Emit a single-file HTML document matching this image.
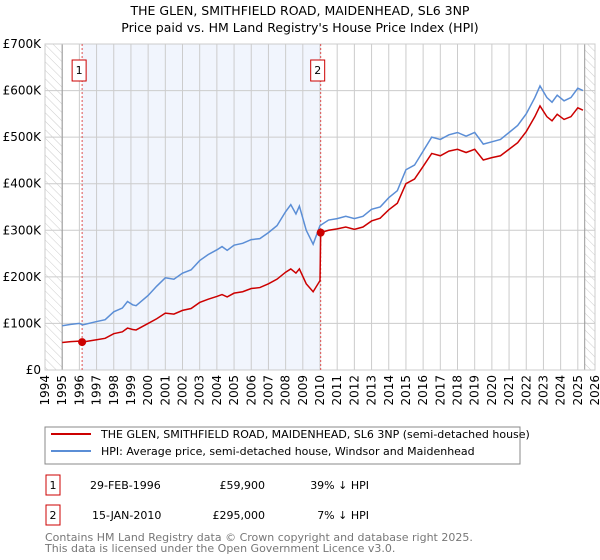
<!DOCTYPE html>
<html><head><meta charset="utf-8"><style>
body{margin:0;background:#fff;font-family:"DejaVu Sans","Liberation Sans",sans-serif;}
#wrap{position:relative;width:600px;height:560px;overflow:hidden}
svg text{font-family:"DejaVu Sans","Liberation Sans",sans-serif}
</style></head><body>
<div id="wrap">
<svg id="chart" width="600" height="560">
<defs><pattern id="hatch" width="6" height="6" patternUnits="userSpaceOnUse" patternTransform="rotate(-45)"><line x1="0" y1="0" x2="0" y2="6" stroke="#ccc" stroke-width="1"/></pattern></defs>
<text x="300" y="15" text-anchor="middle" font-size="12.5" fill="#000">THE GLEN, SMITHFIELD ROAD, MAIDENHEAD, SL6 3NP</text>
<text x="300" y="32" text-anchor="middle" font-size="12.5" fill="#000">Price paid vs. HM Land Registry's House Price Index (HPI)</text>
<g id="plot"></g>
<rect x="45" y="427" width="475" height="37" fill="#fff" stroke="#888"/>
<line x1="51" y1="434" x2="91" y2="434" stroke="#cc0000" stroke-width="2"/>
<text x="101" y="438" font-size="11">THE GLEN, SMITHFIELD ROAD, MAIDENHEAD, SL6 3NP (semi-detached house)</text>
<line x1="51" y1="451" x2="91" y2="451" stroke="#5b8ed6" stroke-width="2"/>
<text x="101" y="455" font-size="11">HPI: Average price, semi-detached house, Windsor and Maidenhead</text>
<g>
<rect x="46" y="475" width="14" height="20" fill="#fff" stroke="#cc0000"/>
<text x="53" y="489" font-size="11" text-anchor="middle">1</text>
<text x="90" y="489" font-size="11">29-FEB-1996</text>
<text x="265" y="489" font-size="11" text-anchor="end">£59,900</text>
<text x="369" y="489" font-size="11" text-anchor="end">39% ↓ HPI</text></g>
<g>
<rect x="46" y="505" width="14" height="20" fill="#fff" stroke="#cc0000"/>
<text x="53" y="519" font-size="11" text-anchor="middle">2</text>
<text x="92" y="519" font-size="11">15-JAN-2010</text>
<text x="265" y="519" font-size="11" text-anchor="end">£295,000</text>
<text x="369" y="519" font-size="11" text-anchor="end">7% ↓ HPI</text></g>
<text x="45" y="541" font-size="11" fill="#777">Contains HM Land Registry data © Crown copyright and database right 2025.</text>
<text x="45" y="552" font-size="11" fill="#777">This data is licensed under the Open Government Licence v3.0.</text>
</svg></div>
<script>
const hpiYears=[1995,1995.5,1996,1996.2,1997,1997.5,1998,1998.5,1998.8,1999.1,1999.3,2000,2000.5,2001,2001.5,2002,2002.5,2003,2003.5,2004,2004.3,2004.6,2005,2005.5,2006,2006.5,2007,2007.5,2008,2008.3,2008.6,2008.8,2009.2,2009.6,2010,2010.5,2011,2011.5,2012,2012.5,2013,2013.5,2014,2014.5,2015,2015.5,2016,2016.5,2017,2017.5,2018,2018.5,2019,2019.5,2020,2020.5,2021,2021.5,2022,2022.5,2022.8,2023.2,2023.5,2023.8,2024.2,2024.6,2025,2025.3];
const hpiValues=[95,98,100,97,104,108,125,133,147,140,138,160,180,198,195,208,215,235,248,258,265,257,268,272,280,282,295,310,340,355,335,352,300,270,310,322,325,330,325,330,345,350,370,385,430,440,470,500,495,505,510,502,510,485,490,495,510,525,550,585,610,585,575,590,578,585,605,600];
const paidYears=[1995,1995.5,1996,1996.16,1997,1997.5,1998,1998.5,1998.8,1999.1,1999.3,2000,2000.5,2001,2001.5,2002,2002.5,2003,2003.5,2004,2004.3,2004.6,2005,2005.5,2006,2006.5,2007,2007.5,2008,2008.3,2008.6,2008.8,2009.2,2009.6,2010,2010.04,2010.5,2011,2011.5,2012,2012.5,2013,2013.5,2014,2014.5,2015,2015.5,2016,2016.5,2017,2017.5,2018,2018.5,2019,2019.5,2020,2020.5,2021,2021.5,2022,2022.5,2022.8,2023.2,2023.5,2023.8,2024.2,2024.6,2025,2025.3];
const paidValues=[59,61,62,59.9,65,68,78,82,90,87,86,100,110,122,120,128,132,145,152,158,162,157,165,168,175,177,185,195,210,217,208,217,185,168,192,295,300,303,307,302,307,320,326,344,358,400,410,437,465,460,470,474,467,474,451,456,460,474,488,512,544,567,544,535,549,538,544,563,558];
const yTicks=[0,100,200,300,400,500,600,700];
const yTickLabels=["£0","£100K","£200K","£300K","£400K","£500K","£600K","£700K"];
const saleYears=[1996.16,2010.04];
const salePrices=[59.9,295];
const saleLabels=["1","2"];
const X0=45,X1=595,Y0=370,Y1=44;
const xs=y=>X0+(y-1994)/32*(X1-X0);
const ys=v=>Y0-v/700*(Y0-Y1);
const NS="http://www.w3.org/2000/svg";
const g=document.getElementById('plot');
function mk(t,a){const e=document.createElementNS(NS,t);for(const k in a)e.setAttribute(k,a[k]);g.appendChild(e);return e;}
let e;
e=mk('rect',{x:xs(saleYears[0]),y:Y1,width:xs(saleYears[1])-xs(saleYears[0]),height:Y0-Y1,fill:'#eef3fc',opacity:0.8});


e=mk('rect',{x:X0,y:Y1,width:xs(1995)-X0,height:Y0-Y1,fill:'url(#hatch)'});


e=mk('rect',{x:xs(2025.4),y:Y1,width:X1-xs(2025.4),height:Y0-Y1,fill:'url(#hatch)'});


for(let yr=1994;yr<=2026;yr++){
 e=mk('line',{x1:xs(yr),x2:xs(yr),y1:Y1,y2:Y0,stroke:'#ccc','stroke-width':1});
 
 
 e=mk('text',{x:0,y:0,'font-size':12,'text-anchor':'end',transform:`translate(${xs(yr)+4},${Y0+5}) rotate(-90)`});
 e.textContent=yr;
 
 
}
yTicks.forEach((v,i)=>{
 e=mk('line',{x1:X0,x2:X1,y1:ys(v),y2:ys(v),stroke:'#ccc','stroke-width':1});
 
 
 e=mk('text',{x:X0-4,y:ys(v)+4,'font-size':12,'text-anchor':'end'});
 e.textContent=yTickLabels[i];
 
 
});
e=mk('line',{x1:xs(1995),x2:xs(1995),y1:Y1,y2:Y0,stroke:'#999'});


e=mk('line',{x1:xs(2025.4),x2:xs(2025.4),y1:Y1,y2:Y0,stroke:'#999'});


e=mk('rect',{x:X0,y:Y1,width:X1-X0,height:Y0-Y1,fill:'none',stroke:'#ccc'});


saleYears.forEach((yr,i)=>{
 e=mk('line',{x1:xs(yr),x2:xs(yr),y1:Y1,y2:Y0,stroke:'#e05050','stroke-dasharray':'2,2'});
 
 
});
e=mk('polyline',{points:hpiYears.map((y,i)=>xs(y)+','+ys(hpiValues[i])).join(' '),fill:'none',stroke:'#5b8ed6','stroke-width':1.5});


e=mk('polyline',{points:paidYears.map((y,i)=>xs(y)+','+ys(paidValues[i])).join(' '),fill:'none',stroke:'#cc0000','stroke-width':1.5});


saleYears.forEach((yr,i)=>{
 e=mk('circle',{cx:xs(yr),cy:ys(salePrices[i]),r:4,fill:'#cc0000'});
 
 
 e=mk('rect',{x:xs(yr)-10,y:60,width:14,height:21,fill:'#fff',stroke:'#cc0000'});
 
 
 e=mk('text',{x:xs(yr)-3,y:74,'font-size':11,'text-anchor':'middle'});
 e.textContent=saleLabels[i];
 
 
});
</script>
</body></html>
